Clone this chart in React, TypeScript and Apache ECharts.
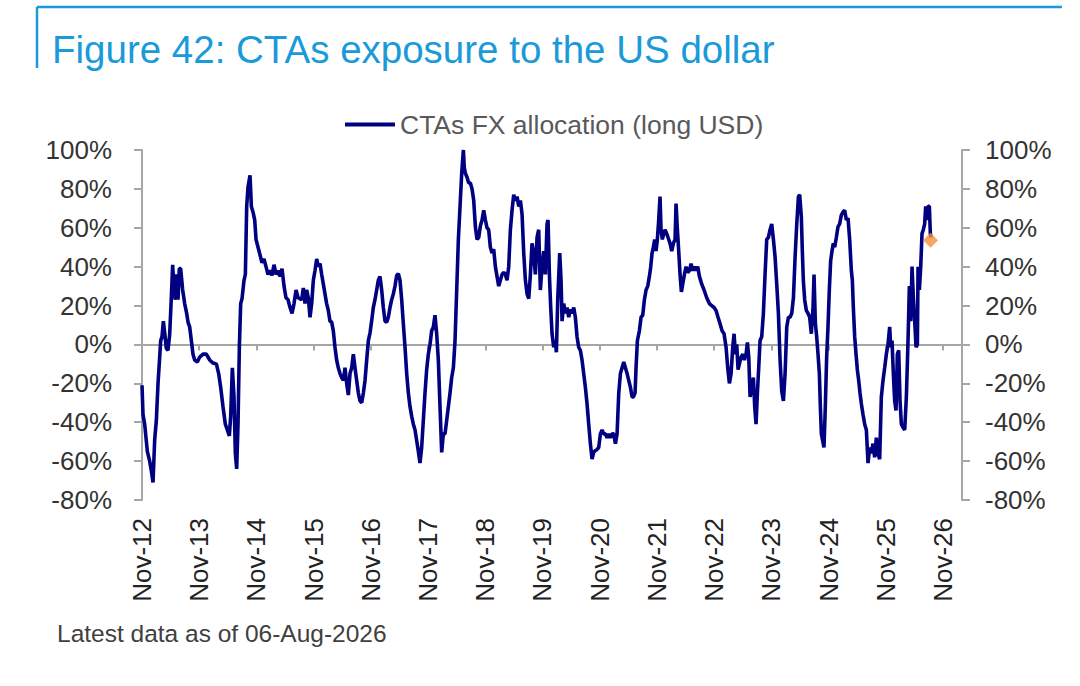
import React, { useEffect, useRef } from "react";
import * as echarts from "echarts";

// x values are months elapsed since 1 Nov 2012; y values are CTA FX allocation in %
const titleText = "Figure 42: CTAs exposure to the US dollar";
const seriesName = "CTAs FX allocation (long USD)";
const footnoteText = "Latest data as of 06-Aug-2026";

const xTickLabels = [
  "Nov-12", "Nov-13", "Nov-14", "Nov-15", "Nov-16", "Nov-17", "Nov-18", "Nov-19",
  "Nov-20", "Nov-21", "Nov-22", "Nov-23", "Nov-24", "Nov-25", "Nov-26",
];

const alloc2012to2015: [number, number][] = [
  [0, -21], [0.21, -36], [0.56, -41], [1.12, -55], [1.61, -60], [1.96, -65], [2.31, -71], [2.66, -49],
  [3.01, -39], [3.36, -20], [3.71, -6.5], [3.92, 2], [4.2, 4], [4.48, 12], [4.76, 6], [5.1, -2],
  [5.45, -3], [5.8, 5], [6.15, 24], [6.43, 41], [6.71, 28], [6.99, 23], [7.27, 36], [7.55, 23],
  [7.83, 39], [8.11, 39], [8.53, 28], [8.95, 21], [9.37, 16], [9.65, 11.5], [10.0, 9], [10.35, 2],
  [10.7, -5], [11.05, -8], [11.61, -9], [12.1, -6.5], [12.8, -5], [13.5, -5], [14.2, -8], [14.9, -9.6],
  [15.6, -10], [16.08, -15], [16.5, -22], [16.99, -32], [17.48, -41], [17.9, -44], [18.32, -47], [18.6, -37],
  [18.95, -12], [19.3, -27], [19.58, -56], [19.86, -64], [20.14, -41], [20.42, -1.4], [20.7, 21], [20.98, 23.5],
  [21.4, 33], [21.68, 36], [21.96, 71], [22.24, 81], [22.66, 87], [22.94, 71], [23.29, 68], [23.64, 64],
  [23.92, 54], [24.34, 50], [24.76, 46], [25.17, 42], [25.59, 44], [26.01, 40], [26.43, 36], [26.85, 38],
  [27.27, 35.5], [27.69, 41], [28.11, 36], [28.53, 38], [28.95, 35], [29.37, 39], [29.79, 30], [30.2, 24],
  [30.63, 23], [31.05, 19], [31.47, 16], [31.89, 21], [32.31, 28], [32.73, 24],
];

const alloc2015to2018: [number, number][] = [
  [33.49, 23], [33.84, 29], [34.19, 21], [34.54, 28], [34.89, 24], [35.24, 14], [35.59, 21], [35.94, 33],
  [36.29, 38], [36.64, 44], [36.99, 40], [37.34, 41.6], [37.69, 36], [38.04, 31], [38.38, 26], [38.73, 21],
  [39.08, 17.5], [39.43, 12], [39.78, 11.5], [40.13, 7], [40.48, -1.4], [40.83, -8], [41.18, -12], [41.53, -15],
  [41.88, -17], [42.23, -18.5], [42.58, -12], [42.93, -20], [43.28, -26], [43.63, -15], [43.98, -12], [44.33, -5],
  [44.68, -12], [45.03, -18.5], [45.38, -25], [45.73, -29], [46.08, -30], [46.43, -25], [46.78, -18.5], [47.13, -8],
  [47.48, 2], [47.83, 6], [48.17, 12], [48.52, 19], [48.87, 23], [49.22, 28], [49.57, 33], [49.92, 35],
  [50.27, 28], [50.62, 19], [50.97, 12], [51.32, 11.5], [51.67, 14], [52.02, 19], [52.37, 23], [52.72, 26],
  [53.07, 30], [53.42, 35.5], [53.77, 36.4], [54.12, 33], [54.47, 23], [54.82, 10.6], [55.17, -1.4], [55.52, -15],
  [55.87, -25], [56.22, -32], [56.57, -37], [56.92, -41], [57.27, -44], [57.62, -49.5], [57.97, -55], [58.31, -61],
  [58.66, -53], [59.01, -39], [59.36, -25], [59.71, -13], [60.06, -5], [60.41, 0], [60.76, 7], [61.11, 9],
  [61.46, 15], [61.81, 5.5], [62.16, -8], [62.51, -32], [62.86, -55.5], [63.21, -46], [63.56, -46], [63.91, -39],
  [64.26, -32], [64.61, -25], [64.96, -17], [65.31, -12], [65.66, 2], [66.01, 28], [66.36, 54], [66.71, 71],
  [67.06, 88], [67.41, 100], [67.6, 91],
];

const alloc2018to2021: [number, number][] = [
  [67.83, 88], [68.18, 86], [68.53, 83], [68.88, 83], [69.23, 80], [69.58, 74], [69.93, 60.5], [70.28, 54],
  [70.63, 55], [70.98, 61], [71.33, 64], [71.68, 69], [72.03, 64], [72.37, 60], [72.72, 59], [73.07, 50],
  [73.42, 47], [73.77, 49], [74.12, 40], [74.47, 35], [74.82, 30], [75.17, 33], [75.52, 36], [75.87, 37],
  [76.22, 36], [76.57, 33], [76.92, 40], [77.27, 59], [77.62, 69], [77.97, 77], [78.32, 74], [78.67, 76],
  [79.02, 71], [79.37, 74], [79.72, 67], [80.07, 47], [80.42, 33], [80.77, 26], [81.12, 23.5], [81.47, 36],
  [81.81, 52], [82.16, 47], [82.51, 36], [82.86, 55], [83.21, 59], [83.56, 28], [83.91, 40], [84.26, 48],
  [84.61, 36], [84.96, 62], [85.17, 64], [85.45, 36], [85.73, 19], [86.01, 5.5], [86.36, -1.4], [86.71, 2],
  [86.92, -4], [87.2, 23], [87.62, 47], [87.9, 33], [88.11, 12], [88.46, 21], [88.81, 16], [89.16, 19],
  [89.51, 14], [89.86, 18], [90.21, 16], [90.56, 19], [90.9, 14], [91.25, 4], [91.6, -1.4], [91.95, -3],
  [92.3, -8], [92.65, -15], [93.0, -22], [93.35, -30.5], [93.7, -41], [94.05, -51], [94.4, -59], [94.75, -55.5],
  [95.1, -54.6], [95.45, -54], [95.8, -53], [96.15, -46], [96.5, -44], [96.85, -46], [97.2, -46], [97.55, -48],
  [97.9, -46], [98.25, -48], [98.6, -46], [98.95, -46], [99.3, -51], [99.65, -46], [100.0, -25], [100.35, -15],
  [100.7, -12], [101.05, -9], [101.4, -12], [101.75, -15], [102.1, -18.5], [102.45, -22], [102.8, -27],
];

const alloc2021to2024: [number, number][] = [
  [103.07, -27], [103.42, -25], [103.63, -12], [103.91, 2], [104.33, 7], [104.68, 14], [105.03, 15], [105.38, 23],
  [105.73, 28], [106.08, 30], [106.43, 35], [106.71, 40], [106.99, 47], [107.27, 50], [107.54, 54], [107.82, 48],
  [108.1, 54], [108.38, 64], [108.66, 76], [108.87, 59], [109.15, 54], [109.43, 57], [109.71, 59], [110.06, 57],
  [110.41, 54.5], [110.76, 52], [111.11, 48], [111.46, 52], [111.81, 54], [112.02, 72.5], [112.3, 59], [112.58, 48],
  [112.86, 36], [113.14, 27], [113.42, 31], [113.77, 36], [114.12, 40], [114.47, 37], [114.82, 38], [115.17, 41.6],
  [115.52, 38], [115.87, 40], [116.22, 38], [116.57, 40], [116.92, 35], [117.41, 31], [117.9, 28], [118.45, 24],
  [119.01, 21], [119.5, 20], [119.99, 19], [120.41, 17.5], [120.83, 14], [121.25, 10.6], [121.67, 7], [122.09, 5.5],
  [122.51, -1.4], [122.86, -12], [123.21, -20], [123.56, -15], [123.91, -1.4], [124.19, 5.5], [124.47, -5], [124.75, 0],
  [125.03, -13], [125.31, -10], [125.66, -6.5], [126.01, -5], [126.36, -8], [126.71, -5], [126.99, 1], [127.27, -6.5],
  [127.55, -27], [127.9, -22], [128.24, -17], [128.52, -32], [128.8, -41], [129.08, -25], [129.36, -12], [129.64, 2],
  [129.99, 4], [130.34, 16], [130.69, 36], [131.04, 54], [131.39, 55], [131.74, 59], [132.09, 62], [132.44, 54],
  [132.79, 45], [133.14, 31], [133.49, 16], [133.84, -8], [134.19, -24], [134.54, -29], [134.89, -15], [135.24, 9],
  [135.59, 14], [135.94, 14], [136.29, 16], [136.64, 24], [136.99, 45], [137.34, 62], [137.69, 76],
];

const alloc2024to2026: [number, number][] = [
  [137.95, 77], [138.3, 65.6], [138.51, 48], [138.72, 33], [139.0, 23], [139.35, 17.5], [139.7, 16], [140.05, 14],
  [140.4, 5.5], [140.75, 19], [140.96, 36], [141.24, 11], [141.52, 4], [141.8, -5], [142.08, -15], [142.29, -32],
  [142.5, -46], [142.77, -49.5], [143.05, -53], [143.33, -32], [143.61, -6.5], [143.89, 9], [144.17, 28], [144.45, 43],
  [144.73, 48], [145.01, 52], [145.29, 50], [145.64, 55], [145.99, 60.5], [146.34, 62], [146.69, 66.5], [147.04, 68],
  [147.39, 69], [147.74, 64], [148.09, 65], [148.44, 54], [148.79, 38], [149.0, 33], [149.21, 19], [149.49, 4],
  [149.77, -5], [150.05, -13], [150.33, -18.5], [150.61, -25], [150.89, -30.5], [151.24, -36], [151.59, -41], [151.94, -44],
  [152.29, -61], [152.64, -53], [152.98, -56], [153.33, -51], [153.68, -58], [154.03, -48], [154.38, -56], [154.73, -59],
  [155.08, -27], [155.43, -18.5], [155.78, -12], [156.13, -5], [156.48, 0], [156.83, 9], [157.04, -1.4], [157.32, 2],
  [157.6, -15], [157.88, -29], [158.16, -34], [158.44, -5], [158.72, -3], [159.0, -29], [159.28, -41], [159.63, -42.6],
  [159.98, -44], [160.33, -27], [160.68, 2], [160.96, 30], [161.24, 12], [161.52, 40], [161.8, 24], [162.08, 12],
  [162.36, -1.4], [162.64, 0], [162.78, 40], [163.06, 28], [163.34, 40], [163.61, 57], [163.89, 59], [164.17, 62],
  [164.38, 71], [164.66, 64], [164.87, 71], [165.15, 71], [165.36, 57], [165.5, 55],
];

const latestPoint: [number, number][] = [[165.4, 53.6]];

const xMin = 0;
const xMax = 172;
const xStep = 12;
const yMin = -80;
const yMax = 100;
const yStep = 20;

const FONT = "'Liberation Sans', Arial, Helvetica, sans-serif";
const AXIS_GREY = "#A6A6A6";
const BLUE = "#1A9AD9";

function buildOption(): echarts.EChartsOption {
  const allData = [
    ...alloc2012to2015,
    ...alloc2015to2018,
    ...alloc2018to2021,
    ...alloc2021to2024,
    ...alloc2024to2026,
  ];
  const yAxisCommon = {
    type: "value" as const,
    min: yMin,
    max: yMax,
    interval: yStep,
    splitLine: { show: false },
    axisLine: { show: true, onZero: false, lineStyle: { color: AXIS_GREY, width: 2 } },
    axisTick: { show: true, length: 8, lineStyle: { color: AXIS_GREY, width: 2 } },
  };
  return {
    animation: false,
    backgroundColor: "#ffffff",
    textStyle: { fontFamily: FONT },
    title: {
      text: titleText,
      left: 47,
      top: 25,
      textStyle: { color: BLUE, fontSize: 38.5, fontWeight: "normal", fontFamily: FONT },
    },
    legend: {
      data: [seriesName],
      left: 340,
      top: 106,
      icon: "rect",
      itemWidth: 50,
      itemHeight: 4,
      textStyle: { color: "#595959", fontSize: 26.5, fontFamily: FONT },
    },
    grid: { left: 142, right: 118, top: 150, bottom: 186, containLabel: false },
    xAxis: [
      {
        type: "value",
        position: "bottom",
        min: xMin,
        max: xMax,
        interval: xStep,
        splitLine: { show: false },
        axisLine: { show: true, onZero: true, lineStyle: { color: AXIS_GREY, width: 2 } },
        axisTick: { show: true, length: 6, lineStyle: { color: AXIS_GREY, width: 2 } },
        axisLabel: { show: false },
      },
      {
        type: "value",
        position: "bottom",
        min: xMin,
        max: xMax,
        interval: xStep,
        splitLine: { show: false },
        axisLine: { show: false, onZero: false },
        axisTick: { show: false },
        axisLabel: {
          show: true,
          rotate: 90,
          margin: 18,
          fontSize: 26,
          color: "#222222",
          fontFamily: FONT,
          showMaxLabel: false,
          formatter: (v: number) => {
            const idx = (v - xMin) / xStep;
            return Number.isInteger(idx) && xTickLabels[idx] ? xTickLabels[idx] : "";
          },
        },
      },
    ],
    yAxis: [
      {
        ...yAxisCommon,
        position: "left",
        axisLabel: { formatter: "{value}%", fontSize: 26, color: "#333333", margin: 30, fontFamily: FONT },
      },
      {
        ...yAxisCommon,
        position: "right",
        axisLabel: { formatter: "{value}%", fontSize: 26, color: "#333333", margin: 23, fontFamily: FONT },
      },
    ],
    series: [
      {
        name: seriesName,
        type: "line",
        xAxisIndex: 0,
        yAxisIndex: 0,
        data: allData,
        showSymbol: false,
        symbol: "none",
        color: "#000080",
        lineStyle: { color: "#000080", width: 3.6 },
        z: 3,
      },
      {
        name: "Latest",
        type: "scatter",
        xAxisIndex: 0,
        yAxisIndex: 0,
        data: latestPoint,
        symbol: "diamond",
        symbolSize: 15,
        itemStyle: { color: "#F5903F" },
        z: 4,
      },
    ],
    graphic: [
      {
        type: "line",
        shape: { x1: 37, y1: 7, x2: 1062, y2: 7 },
        style: { stroke: BLUE, lineWidth: 2.5 },
      },
      {
        type: "line",
        shape: { x1: 37, y1: 7, x2: 37, y2: 68 },
        style: { stroke: BLUE, lineWidth: 2.5 },
      },
      {
        type: "text",
        left: 57,
        top: 621,
        style: { text: footnoteText, fill: "#404040", fontSize: 24.5, fontFamily: FONT },
      },
    ],
  };
}

export default function App() {
  const ref = useRef<HTMLDivElement>(null);
  useEffect(() => {
    if (!ref.current) return;
    const chart = echarts.init(ref.current, null, { renderer: "svg" });
    chart.setOption(buildOption());
    return () => chart.dispose();
  }, []);
  return (
    <div
      ref={ref}
      style={{ position: "absolute", left: 0, top: 0, width: 1080, height: 686, background: "#ffffff" }}
    />
  );
}
